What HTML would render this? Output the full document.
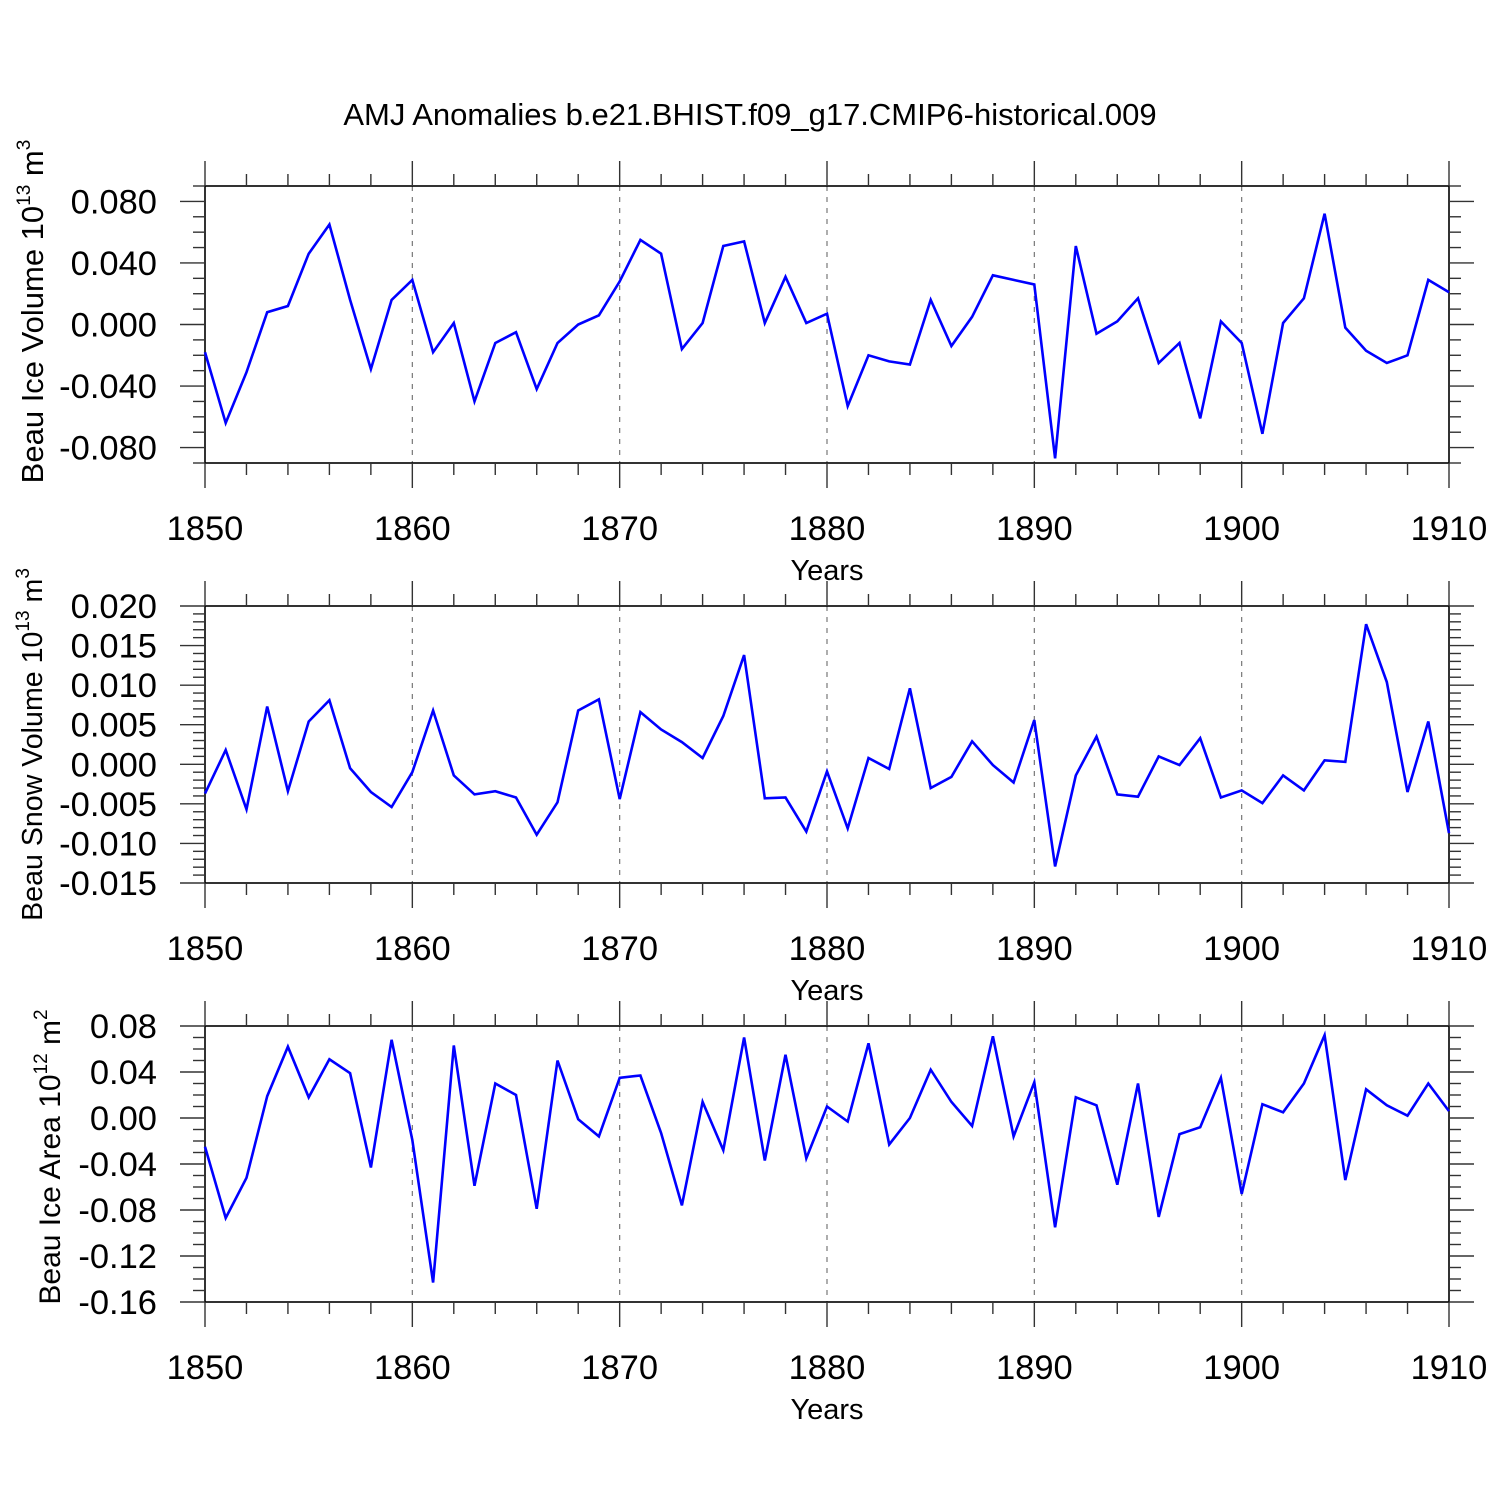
<!DOCTYPE html>
<html><head><meta charset="utf-8"><style>
body{margin:0;background:#fff}
svg{display:block;font-family:"Liberation Sans",sans-serif}
</style></head><body>
<svg id="s" width="1500" height="1500" viewBox="0 0 1500 1500">
<text x="750" y="125" font-size="31" text-anchor="middle">AMJ Anomalies b.e21.BHIST.f09_g17.CMIP6-historical.009</text>
</svg>
<script>
const years=[];for(let y=1850;y<=1910;y++)years.push(y);
const iceVolume=[-0.018,-0.064,-0.031,0.008,0.012,0.046,0.065,0.016,-0.029,0.016,0.029,-0.018,0.001,-0.050,-0.012,-0.005,-0.042,-0.012,0.000,0.006,0.028,0.055,0.046,-0.016,0.001,0.051,0.054,0.001,0.031,0.001,0.007,-0.053,-0.020,-0.024,-0.026,0.016,-0.014,0.005,0.032,0.029,0.026,-0.087,0.051,-0.006,0.002,0.017,-0.025,-0.012,-0.061,0.002,-0.012,-0.071,0.001,0.017,0.072,-0.002,-0.017,-0.025,-0.020,0.029,0.021];
const snowVolume=[-0.0037,0.0018,-0.0057,0.0073,-0.0034,0.0054,0.0081,-0.0005,-0.0035,-0.0054,-0.0010,0.0068,-0.0014,-0.0038,-0.0034,-0.0042,-0.0089,-0.0048,0.0068,0.0082,-0.0044,0.0066,0.0044,0.0028,0.0008,0.0061,0.0138,-0.0043,-0.0042,-0.0085,-0.0009,-0.0081,0.0008,-0.0006,0.0096,-0.0030,-0.0016,0.0029,-0.0001,-0.0023,0.0056,-0.0129,-0.0014,0.0035,-0.0038,-0.0041,0.0010,-0.0001,0.0033,-0.0042,-0.0033,-0.0049,-0.0014,-0.0033,0.0005,0.0003,0.0177,0.0104,-0.0035,0.0054,-0.0087];
const iceArea=[-0.025,-0.087,-0.052,0.019,0.062,0.018,0.051,0.039,-0.043,0.068,-0.019,-0.143,0.063,-0.059,0.030,0.020,-0.079,0.050,-0.001,-0.016,0.035,0.037,-0.013,-0.076,0.014,-0.028,0.070,-0.037,0.055,-0.035,0.010,-0.003,0.065,-0.023,0.000,0.042,0.014,-0.007,0.071,-0.016,0.031,-0.095,0.018,0.011,-0.058,0.030,-0.086,-0.014,-0.008,0.035,-0.066,0.012,0.005,0.030,0.072,-0.054,0.025,0.011,0.002,0.030,0.006];
const xTickLabels=["1850","1860","1870","1880","1890","1900","1910"];
const ticks1=["0.080","0.040","0.000","-0.040","-0.080"];
const ticks2=["0.020","0.015","0.010","0.005","0.000","-0.005","-0.010","-0.015"];
const ticks3=["0.08","0.04","0.00","-0.04","-0.08","-0.12","-0.16"];
const NS="http://www.w3.org/2000/svg",svg=document.getElementById('s');
function mk(t,a,p){const e=document.createElementNS(NS,t);for(const k in a)e.setAttribute(k,a[k]);(p||svg).appendChild(e);return e;}
const X0=205,X1=1449;
const sx=v=>X0+(v-1850)/60*(X1-X0);
const panels=[
 {name:'ice-volume',top:186,bot:463,min:-0.09,max:0.09,data:iceVolume,ticks:ticks1,minor:0.01,label:'Beau Ice Volume 10',exp:'13',unit:' m',uexp:'3',lx:43,off:-13,fs:31},
 {name:'snow-volume',top:606,bot:883,min:-0.015,max:0.02,data:snowVolume,ticks:ticks2,minor:0.001,label:'Beau Snow Volume 10',exp:'13',unit:' m',uexp:'3',lx:42,off:0,fs:28.6},
 {name:'ice-area',top:1026,bot:1302,min:-0.16,max:0.08,data:iceArea,ticks:ticks3,minor:0.01,label:'Beau Ice Area 10',exp:'12',unit:' m',uexp:'2',lx:60,off:-7,fs:30}
];
panels.forEach(P=>{
 const g=mk('g',{});
 
 
 const sy=v=>P.bot-(v-P.min)/(P.max-P.min)*(P.bot-P.top);
 for(let y=1860;y<=1900;y+=10){const l=mk('line',{x1:sx(y),x2:sx(y),y1:P.top,y2:P.bot,stroke:'#777','stroke-width':1.2,'stroke-dasharray':'5,6'},g);
  }
 const fr=mk('rect',{x:X0,y:P.top,width:X1-X0,height:P.bot-P.top,fill:'none',stroke:'#000','stroke-width':1.6},g);
 
 for(let y=1850;y<=1910;y+=2){const L=(y%10==0)?25:12;
  mk('line',{x1:sx(y),x2:sx(y),y1:P.top,y2:P.top-L,stroke:'#333','stroke-width':1.4},g);
  mk('line',{x1:sx(y),x2:sx(y),y1:P.bot,y2:P.bot+L,stroke:'#333','stroke-width':1.4},g);}
 const step=P.minor, n=Math.round((P.max-P.min)/step);
 const major=(parseFloat(P.ticks[0])-parseFloat(P.ticks[1]));
 for(let i=0;i<=n;i++){const v=P.min+i*step;const r=Math.abs(v/major-Math.round(v/major))<1e-6;const L=r?25:12;
  mk('line',{x1:X0,x2:X0-L,y1:sy(v),y2:sy(v),stroke:'#333','stroke-width':1.4},g);
  mk('line',{x1:X1,x2:X1+L,y1:sy(v),y2:sy(v),stroke:'#333','stroke-width':1.4},g);}
 P.ticks.forEach(t=>{const e=mk('text',{x:157,y:sy(parseFloat(t))+12,'font-size':34.5,'text-anchor':'end'},g);e.textContent=t;
  });
 xTickLabels.forEach(t=>{const e=mk('text',{x:sx(+t),y:P.bot+77,'font-size':34.5,'text-anchor':'middle'},g);e.textContent=t;
  });
 const xt=mk('text',{x:827,y:P.bot+117,'font-size':29,'text-anchor':'middle'},g);xt.textContent='Years';
 
 const cy=(P.top+P.bot)/2+P.off;
 const yt=mk('text',{x:0,y:0,'font-size':P.fs,'text-anchor':'middle',transform:`translate(${P.lx},${cy}) rotate(-90)`},g);
 
 yt.innerHTML=`${P.label}<tspan dy="-13" font-size="19">${P.exp}</tspan><tspan dy="13">${P.unit}</tspan><tspan dy="-13" font-size="19">${P.uexp}</tspan>`;
 const pts=P.data.map((v,i)=>sx(years[i]).toFixed(1)+','+sy(v).toFixed(1)).join(' ');
 const pl=mk('polyline',{points:pts,fill:'none',stroke:'#0000ff','stroke-width':2.6,'stroke-linejoin':'miter'},g);
 
});
</script>
</body></html>
